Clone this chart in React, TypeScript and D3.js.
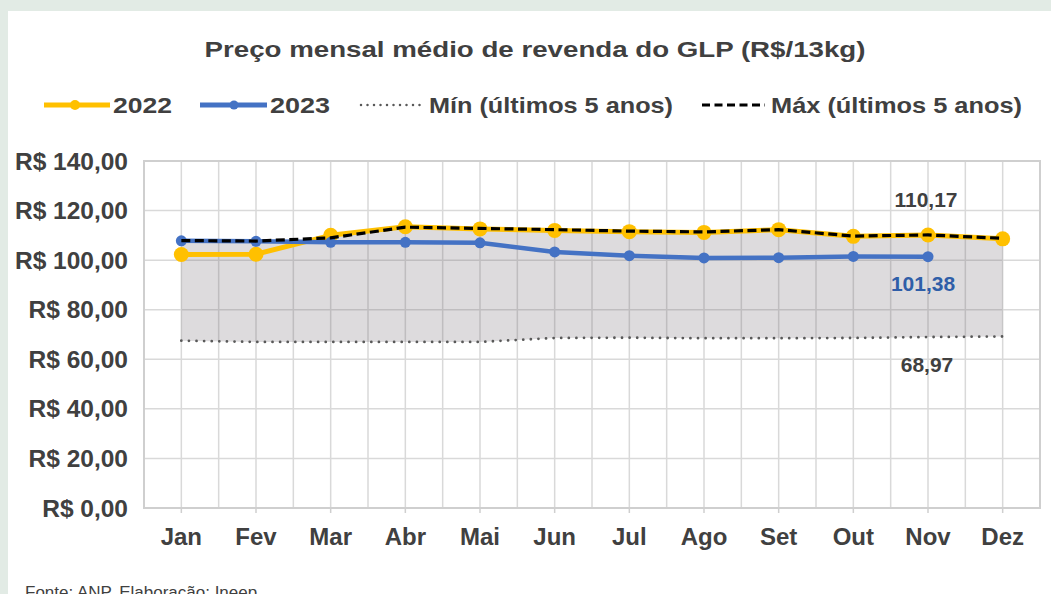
import React, { useEffect } from "react";
import * as d3 from "d3";

const months = ["Jan", "Fev", "Mar", "Abr", "Mai", "Jun", "Jul", "Ago", "Set", "Out", "Nov", "Dez"];
const values2022 = [102.3, 102.4, 110.0, 113.5, 112.6, 112.0, 111.5, 111.2, 112.3, 109.6, 110.17, 108.6];
const values2023 = [107.8, 107.6, 107.2, 107.2, 107.0, 103.3, 101.8, 100.9, 101.0, 101.5, 101.38];
const maxValues = [107.9, 107.7, 109.0, 113.3, 112.8, 112.3, 111.7, 111.4, 112.3, 109.7, 110.17, 108.8];
const minValues = [67.5, 67.0, 67.0, 67.0, 67.0, 68.6, 68.7, 68.5, 68.5, 68.6, 68.97, 69.2];
const yTicks = [0, 20, 40, 60, 80, 100, 120, 140];
const title = "Preço mensal médio de revenda do GLP (R$/13kg)";
const legendLabels = ["2022", "2023", "Mín (últimos 5 anos)", "Máx (últimos 5 anos)"];
const source = "Fonte: ANP. Elaboração: Ineep.";

const fmt = (v: number) => "R$ " + v.toFixed(2).replace(".", ",");
const fmtNum = (v: number) => v.toFixed(2).replace(".", ",");

export default function App() {
  useEffect(() => {
    document.body.style.margin = "0";
    document.body.style.overflow = "hidden";
  }, []);

  const W = 1051, H = 594;
  const left = 144, right = 1040, top = 161, bottom = 508;
  const x = d3.scaleBand<string>().domain(months).range([left, right]).padding(0);
  const bw = x.bandwidth();
  const cx = (m: string) => (x(m) as number) + bw / 2;
  const y = d3.scaleLinear().domain([0, 140]).range([bottom, top]);

  const area = d3.area<number>()
    .x((_, i) => cx(months[i]))
    .y0((_, i) => y(minValues[i]))
    .y1((_, i) => y(maxValues[i]));
  const line = d3.line<number>().x((_, i) => cx(months[i])).y((d) => y(d));

  const font = "'Liberation Sans', Arial, sans-serif";
  const vLines: number[] = [];
  months.forEach((m) => { vLines.push(x(m) as number); vLines.push(cx(m)); });
  vLines.push(right);

  const novI = 10;

  return (
    <div style={{ position: "absolute", left: 0, top: 0, width: W, height: H, overflow: "hidden" }}>
      <svg width={W} height={H} style={{ display: "block" }}>
        <rect x={0} y={0} width={W} height={H} fill="#e2ebe5" />
        <rect x={8} y={11} width={W - 8} height={H - 11} fill="#ffffff" />
        <text x={535} y={57} textAnchor="middle" fontFamily={font} fontWeight="bold" fontSize={22}
          fill="#404040" textLength={661} lengthAdjust="spacingAndGlyphs">{title}</text>

        {/* legend */}
        <g fontFamily={font} fontWeight="bold" fontSize={22} fill="#404040">
          <line x1={44} x2={110} y1={105} y2={105} stroke="#ffc000" strokeWidth={5} />
          <circle cx={75} cy={105} r={5} fill="#ffc000" />
          <text x={113} y={113} textLength={59} lengthAdjust="spacingAndGlyphs">{legendLabels[0]}</text>
          <line x1={200} x2={267} y1={105} y2={105} stroke="#4472c4" strokeWidth={5} />
          <circle cx={234} cy={105} r={4.5} fill="#4472c4" />
          <text x={270} y={113} textLength={60} lengthAdjust="spacingAndGlyphs">{legendLabels[1]}</text>
          <line x1={361} x2={420} y1={105} y2={105} stroke="#595959" strokeWidth={2.5} strokeDasharray="0 6.5" strokeLinecap="round" />
          <text x={429} y={113} textLength={244} lengthAdjust="spacingAndGlyphs">{legendLabels[2]}</text>
          <line x1={702} x2={765} y1={105} y2={105} stroke="#000" strokeWidth={3} strokeDasharray="8 4.5" />
          <text x={771} y={113} textLength={251} lengthAdjust="spacingAndGlyphs">{legendLabels[3]}</text>
        </g>

        {/* grid */}
        {yTicks.map((t) => (
          <line key={"h" + t} x1={left} x2={right} y1={y(t)} y2={y(t)} stroke="#d9d9d9" strokeWidth={1.5} />
        ))}
        {vLines.map((v, i) => (
          <line key={"v" + i} x1={v} x2={v} y1={top} y2={bottom} stroke="#d9d9d9" strokeWidth={1.5} />
        ))}
        <rect x={left} y={top} width={right - left} height={bottom - top} fill="none" stroke="#cfcfcf" strokeWidth={2} />
        {months.map((m) => (
          <line key={"t" + m} x1={cx(m)} x2={cx(m)} y1={bottom} y2={bottom + 5} stroke="#cfcfcf" strokeWidth={1.5} />
        ))}

        {/* area between min and max */}
        <path d={area(maxValues) as string} fill="rgb(110,100,110)" fillOpacity={0.23} />

        {/* 2022 */}
        <path d={line(values2022) as string} fill="none" stroke="#ffc000" strokeWidth={5} strokeLinejoin="round" />
        {values2022.map((v, i) => (
          <circle key={"a" + i} cx={cx(months[i])} cy={y(v)} r={7.5} fill="#ffc000" />
        ))}
        {/* 2023 */}
        <path d={line(values2023) as string} fill="none" stroke="#4472c4" strokeWidth={4.5} strokeLinejoin="round" />
        {values2023.map((v, i) => (
          <circle key={"b" + i} cx={cx(months[i])} cy={y(v)} r={5.5} fill="#4472c4" />
        ))}
        {/* max */}
        <path d={line(maxValues) as string} fill="none" stroke="#000" strokeWidth={3.2} strokeDasharray="9 4.5" />
        {/* min */}
        <path d={line(minValues) as string} fill="none" stroke="#595959" strokeWidth={2.8} strokeDasharray="0 7.6" strokeLinecap="round" />

        {/* value labels */}
        <g fontFamily={font} fontWeight="bold" fontSize={21} textAnchor="middle">
          <text x={cx(months[novI]) - 2} y={y(maxValues[novI]) - 28} fill="#404040">{fmtNum(maxValues[novI])}</text>
          <text x={cx(months[novI]) - 5} y={y(values2023[novI]) + 34} fill="#2f5ea8">{fmtNum(values2023[novI])}</text>
          <text x={cx(months[novI]) - 1} y={y(minValues[novI]) + 35} fill="#404040">{fmtNum(minValues[novI])}</text>
        </g>

        {/* y axis labels */}
        <g fontFamily={font} fontWeight="bold" fontSize={24.5} fill="#404040" textAnchor="end">
          {yTicks.map((t) => (
            <text key={"yl" + t} x={128} y={y(t) + 8.5}>{fmt(t)}</text>
          ))}
        </g>
        {/* x axis labels */}
        <g fontFamily={font} fontWeight="bold" fontSize={24} fill="#404040" textAnchor="middle">
          {months.map((m) => (
            <text key={"xl" + m} x={cx(m)} y={545}>{m}</text>
          ))}
        </g>

        <text x={25} y={598} fontFamily={font} fontSize={17} fill="#404040">{source}</text>
      </svg>
    </div>
  );
}
